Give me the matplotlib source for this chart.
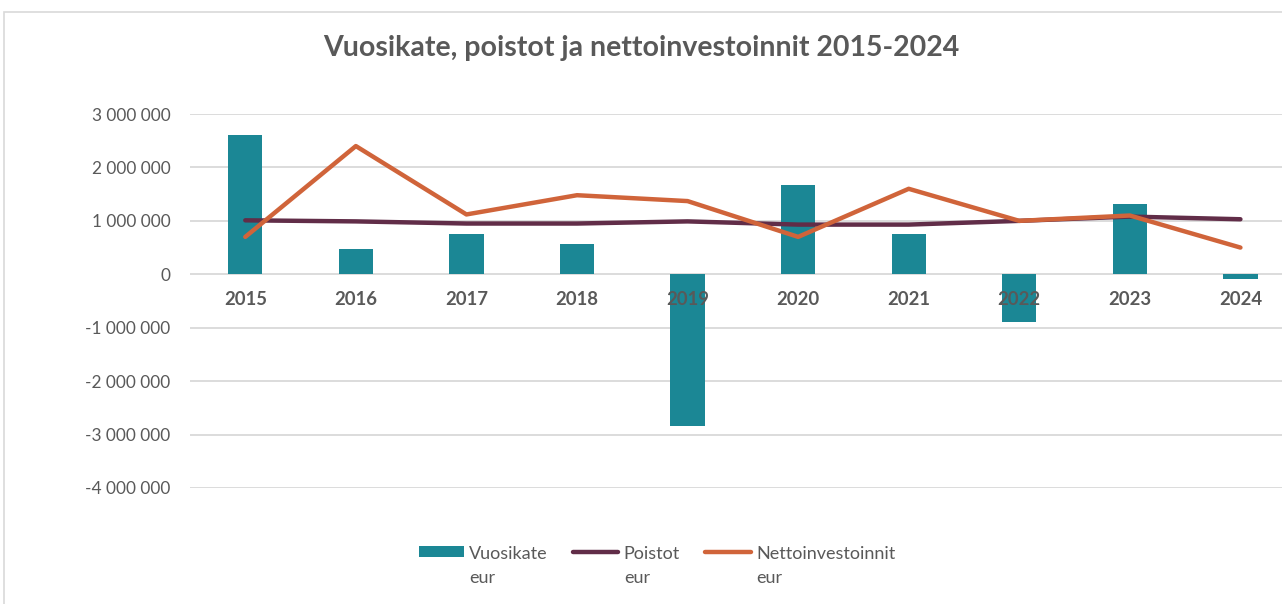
import matplotlib.pyplot as plt
from matplotlib.patches import Rectangle
from matplotlib.ticker import FuncFormatter, MultipleLocator
import numpy as np

plt.rcParams['font.family'] = ['Lato', 'DejaVu Sans']

years = ['2015', '2016', '2017', '2018', '2019', '2020', '2021', '2022', '2023', '2024']
vuosikate = [2600000, 470000, 750000, 560000, -2840000, 1680000, 750000, -900000, 1310000, -80000]
poistot = [1010000, 990000, 950000, 950000, 990000, 930000, 930000, 1000000, 1080000, 1030000]
netto = [700000, 2400000, 1120000, 1480000, 1370000, 700000, 1600000, 1000000, 1100000, 500000]

teal = '#1B8795'
maroon = '#612D48'
orange = '#D0643A'
grey_txt = '#595959'

fig = plt.figure(figsize=(12.82, 6.04), dpi=100)
ax = fig.add_axes([190 / 1282, 1 - 488 / 604, 1 - 190 / 1282, (488 - 114) / 604])

# chart border
fig.patches.append(Rectangle((4 / 1282, -0.1), 1.2, 1 - 12 / 604 + 0.1, transform=fig.transFigure,
                             fill=False, edgecolor='#D9D9D9', lw=1.2))

x = np.arange(len(years))
bars = ax.bar(x, vuosikate, width=0.31, color=teal, zorder=2)
l1, = ax.plot(x, poistot, color=maroon, lw=3.2, solid_capstyle='round', zorder=3)
l2, = ax.plot(x, netto, color=orange, lw=3.2, solid_capstyle='round', zorder=4)

ax.set_xlim(-0.5, 9.376)
ax.set_ylim(-4000000, 3000000)
ax.yaxis.set_major_locator(MultipleLocator(1000000))
ax.yaxis.set_major_formatter(FuncFormatter(lambda v, p: f'{int(v):,}'.replace(',', ' ')))
ax.tick_params(axis='y', length=0, pad=14, labelsize=12.4, labelcolor=grey_txt)
ax.set_xticks([])
ax.set_axisbelow(True)
ax.grid(axis='y', color='#D9D9D9', lw=1.3)
for s in ax.spines.values():
    s.set_visible(False)

for i, yr in enumerate(years):
    ax.annotate(yr, xy=(i, 0), xytext=(0, -12), textcoords='offset points',
                ha='center', va='top', fontsize=13.3, fontweight='bold', color=grey_txt, zorder=6)

fig.text(0.5, 1 - 48 / 604, 'Vuosikate, poistot ja nettoinvestoinnit 2015-2024',
         ha='center', va='center', fontsize=20.5, fontweight='bold', color=grey_txt)

leg = fig.legend([bars, l1, l2], ['Vuosikate\neur', 'Poistot\neur', 'Nettoinvestoinnit\neur'],
                 loc='center', bbox_to_anchor=(657 / 1282, 1 - 566 / 604), ncol=3, frameon=False,
                 fontsize=13, handlelength=2.5, handleheight=0.5, handletextpad=0.3,
                 columnspacing=1.4, labelcolor=grey_txt)
for t in leg.get_texts():
    t.set_linespacing(1.55)
# put the handle next to the first text line
for col in leg._legend_handle_box.get_children():
    for item in col.get_children():
        item.align = 'top'

fig.savefig('out.png', dpi=100)
